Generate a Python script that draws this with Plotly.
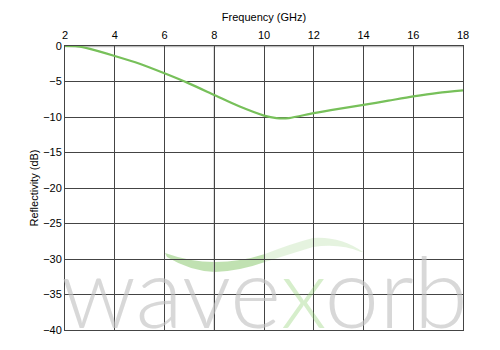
import plotly.graph_objects as go

freq = [2, 2.5, 3, 4, 5, 6, 7, 8, 9, 10, 10.5, 11, 12, 13, 14, 15, 16, 17, 18]
refl = [0, -0.05, -0.4, -1.4, -2.5, -3.85, -5.3, -6.9, -8.5, -9.8, -10.15, -10.15,
        -9.45, -8.85, -8.3, -7.7, -7.1, -6.6, -6.25]
x_ticks = [2, 4, 6, 8, 10, 12, 14, 16, 18]
y_ticks = [0, -5, -10, -15, -20, -25, -30, -35, -40]

fig = go.Figure()
fig.add_trace(go.Scatter(x=freq, y=refl, mode="lines",
                         line=dict(color="#77c05a", width=2.2, shape="spline", smoothing=0.8),
                         hoverinfo="skip", showlegend=False))

# watermark swoosh (decoration, in axis-domain coords)
L, T, W, H = 65, 46, 398, 284
def px(x, y):
    return (x - L) / W, 1 - (y - T) / H

def path(pts_top, pts_bot):
    s = "M %f,%f " % px(*pts_top[0])
    s += "Q %f,%f %f,%f " % (*px(*pts_top[1]), *px(*pts_top[2]))
    s += "Q %f,%f %f,%f " % (*px(*pts_top[3]), *px(*pts_top[4]))
    s += "L %f,%f " % px(*pts_bot[0])
    s += "Q %f,%f %f,%f " % (*px(*pts_bot[1]), *px(*pts_bot[2]))
    s += "Q %f,%f %f,%f Z" % (*px(*pts_bot[3]), *px(*pts_bot[4]))
    return s

segs = [
    ((165, 253), (190, 262), (215, 262), (240, 262), (265, 254),
     (265, 262), (240, 271), (215, 272), (190, 271), (167, 257), "rgba(150,205,125,0.6)"),
    ((265, 254), (290, 244), (313, 238), (340, 236), (363, 252),
     (361, 252), (340, 243), (313, 247), (290, 254), (265, 262), "rgba(170,215,150,0.3)"),
]
shapes = []
for s in segs:
    top = [s[0], s[1], s[2], s[3], s[4]]
    bot = [s[5], s[6], s[7], s[8], s[9]]
    shapes.append(dict(type="path", xref="x domain", yref="y domain", path=path(top, bot),
                       fillcolor=s[10], line=dict(width=0), layer="below"))

# gray vertical line at x=8 and gray top line
shapes.append(dict(type="line", xref="x", yref="y domain", x0=8, x1=8, y0=0, y1=1,
                   line=dict(color="#bbbbbb", width=1.5), layer="below"))
shapes.append(dict(type="line", xref="x domain", yref="y", x0=0, x1=1, y0=0, y1=0,
                   line=dict(color="#bbbbbb", width=2.5), layer="below"))

fig.update_layout(
    width=500, height=350,
    margin=dict(l=65, r=37, t=46, b=20),
    paper_bgcolor="white", plot_bgcolor="white",
    font=dict(family="Liberation Sans, Arial", size=11, color="black"),
    shapes=shapes,
    annotations=[
        dict(text="wave<span style='color:rgba(150,210,120,0.6)'>x</span>orb", xref="paper", yref="paper",
             x=0.5, y=-0.075, xanchor="center", yanchor="bottom", showarrow=False,
             font=dict(family="Lato, Open Sans", size=98, color="rgba(195,195,195,0.65)", weight=300)),
    ],
    xaxis=dict(side="top", range=[2, 18], tickvals=x_ticks, ticks="", showline=True,
               linecolor="#444", mirror=True, showgrid=True, gridcolor="#444", gridwidth=1,
               zeroline=False, title=dict(text="Frequency (GHz)", standoff=4,
                                          font=dict(size=11)), ticklabelstandoff=2),
    yaxis=dict(range=[-40, 0], tickvals=y_ticks, ticks="", showline=True, linecolor="#444",
               mirror=True, showgrid=True, gridcolor="#444", gridwidth=1, zeroline=False,
               title=dict(text="Reflectivity (dB)", standoff=2, font=dict(size=11))),
)

fig.write_html("out.html")
